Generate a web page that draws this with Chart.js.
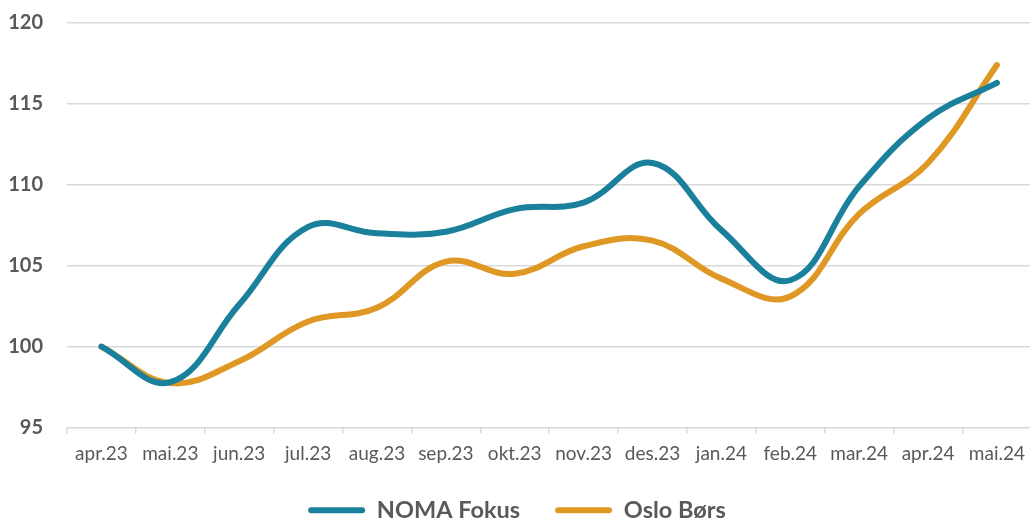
<!DOCTYPE html>
<html>
<head>
<meta charset="utf-8">
<script src="https://cdn.jsdelivr.net/npm/chart.js@4.4.1/dist/chart.umd.min.js"></script>
<style>
  html, body { margin: 0; padding: 0; background: #fff; overflow: hidden; }
  #wrap { width: 1034px; height: 545px; margin-top: -13px; }
</style>
</head>
<body>
<div id="wrap"><canvas id="chart"></canvas></div>
<script>
// data
const months = ["apr.23","mai.23","jun.23","jul.23","aug.23","sep.23","okt.23","nov.23","des.23","jan.24","feb.24","mar.24","apr.24","mai.24"];
const noma = [100, 97.8, 102.6, 107.4, 107.0, 107.1, 108.5, 108.9, 111.35, 107.2, 104.1, 109.9, 114.1, 116.3];
const oslo = [100, 97.75, 99.1, 101.55, 102.4, 105.25, 104.5, 106.2, 106.55, 104.2, 103.1, 108.2, 111.35, 117.4];
const yTicks = [95, 100, 105, 110, 115, 120];

const grey = "#595959";
const ctx = document.getElementById("chart").getContext("2d");

new Chart(ctx, {
  type: "line",
  data: {
    labels: months,
    datasets: [
      { label: "NOMA Fokus", data: noma, borderColor: "#1a809b", backgroundColor: "#1a809b",
        borderWidth: 6, pointRadius: 0, tension: 0.4, borderCapStyle: "round" },
      { label: "Oslo Børs", data: oslo, borderColor: "#e09825", backgroundColor: "#e09825",
        borderWidth: 6, pointRadius: 0, tension: 0.4, borderCapStyle: "round" }
    ]
  },
  options: {
    responsive: true,
    maintainAspectRatio: false,
    animation: false,
    layout: { padding: 0 },
    plugins: {
      tooltip: { enabled: false },
      legend: {
        position: "bottom",
        labels: {
          color: grey,
          font: { family: "Lato", size: 23.5, weight: "bold" },
          boxWidth: 57,
          boxHeight: 6,
          useBorderRadius: true,
          borderRadius: 3,
          padding: 35,
          generateLabels: chart => chart.data.datasets.map((d, i) => ({
            text: d.label, fillStyle: d.borderColor, strokeStyle: d.borderColor,
            lineWidth: 0, borderRadius: 3, datasetIndex: i, fontColor: grey
          }))
        }
      }
    },
    scales: {
      x: {
        offset: true,
        grid: { display: true, drawOnChartArea: false, tickLength: 6, color: "#d9d9d9", lineWidth: 1.5, offset: true },
        border: { display: false },
        ticks: { color: grey, font: { family: "Lato", size: 19 }, padding: 9, maxRotation: 0, autoSkip: false },
        afterFit: s => { s.height = 36; }
      },
      y: {
        min: 95, max: 120,
        afterBuildTicks: s => { s.ticks = yTicks.map(v => ({ value: v })); },
        grid: { color: "#d9d9d9", lineWidth: 1.5, drawTicks: false },
        border: { display: false },
        ticks: { color: grey, font: { family: "Lato", size: 20, weight: "bold" }, padding: 24 },
        afterFit: s => { s.width = 67; }
      }
    }
  }
});
</script>
</body>
</html>
